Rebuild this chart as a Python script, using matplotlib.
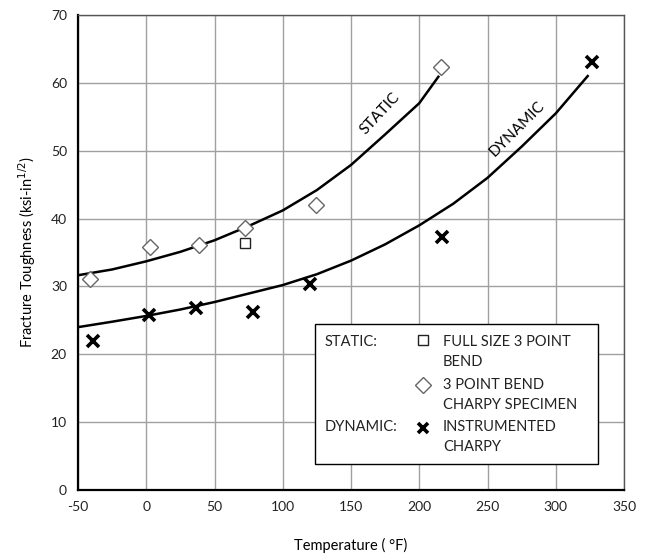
import matplotlib
matplotlib.use('Agg')
import matplotlib.pyplot as plt
from matplotlib.patches import Rectangle

plt.rcParams['font.family'] = ['Lato', 'DejaVu Sans']
plt.rcParams['axes.unicode_minus'] = False

# 试验点
static_full_x = [72]
static_full_y = [36.4]
static_charpy_x = [-41, 3, 38.6, 72.3, 124, 216]
static_charpy_y = [31.1, 35.8, 36.1, 38.6, 42.0, 62.3]
dyn_x = [-39, 2, 36.4, 78, 120, 217, 326.6]
dyn_y = [21.9, 25.8, 26.8, 26.3, 30.3, 37.3, 63.1]

# 拟合曲线
static_curve_x = [-50, -25, 0, 25, 50, 75, 100, 125, 150, 175, 200, 214]
static_curve_y = [31.65, 32.5, 33.7, 35.1, 36.8, 38.9, 41.2, 44.2, 47.9, 52.4, 57.0, 60.9]
dyn_curve_x = [-50, -25, 0, 25, 50, 75, 100, 125, 150, 175, 200, 225, 250, 275, 300, 323.4]
dyn_curve_y = [24.0, 24.8, 25.65, 26.6, 27.7, 28.95, 30.2, 31.8, 33.8, 36.2, 39.0, 42.2, 46.0, 50.6, 55.5, 61.0]

xticks = [-50, 0, 50, 100, 150, 200, 250, 300, 350]
yticks = [0, 10, 20, 30, 40, 50, 60, 70]

fig = plt.figure(figsize=(6.46, 5.57), dpi=100)
ax = fig.add_axes([78/646, 1-490/557, 546/646, 475/557])

ax.set_xlim(-50, 350)
ax.set_ylim(0, 70)
ax.set_xticks(xticks)
ax.set_yticks(yticks)
ax.grid(True, color='#a0a0a0', linewidth=1.0)
ax.set_axisbelow(True)
ax.tick_params(length=0, labelsize=10, pad=8, colors='#222222')
for s in ['top', 'right']:
    ax.spines[s].set_color('#555555')
    ax.spines[s].set_linewidth(1.0)
for s in ['left', 'bottom']:
    ax.spines[s].set_color('black')
    ax.spines[s].set_linewidth(1.6)

ax.plot(static_curve_x, static_curve_y, 'k-', lw=1.8, zorder=3, solid_joinstyle='round')
ax.plot(dyn_curve_x, dyn_curve_y, 'k-', lw=1.8, zorder=3, solid_joinstyle='round')

ax.plot(static_charpy_x, static_charpy_y, 'D', ms=8, mfc='white', mec='#666666', mew=1.0, ls='none', zorder=4)
ax.plot(static_full_x, static_full_y, 's', ms=7.5, mfc='white', mec='#222222', mew=1.0, ls='none', zorder=4)
ax.plot(dyn_x, dyn_y, 'x', ms=8, mec='black', mew=2.6, ls='none', zorder=4)

ax.text(171.2, 55.5, 'STATIC', rotation=47, ha='center', va='center', fontsize=11)
ax.text(271.4, 53.3, 'DYNAMIC', rotation=45, ha='center', va='center', fontsize=11)

ax.set_xlabel('Temperature ( °F)', fontsize=10.5, labelpad=18)
ax.set_ylabel('Fracture Toughness (ksi-in$^{1/2}$)', fontsize=10.5, labelpad=9)

# 图例框
def fx(px):
    return (px - 78) / 546
def fy(py):
    return (490 - py) / 475

ax.add_patch(Rectangle((fx(315), fy(464)), fx(598) - fx(315), fy(324) - fy(464),
                       transform=ax.transAxes, facecolor='white', edgecolor='black', lw=1.0, zorder=5))
tk = dict(transform=ax.transAxes, fontsize=10.5, va='center', ha='left', zorder=6, color='#222222')
ax.text(fx(325), fy(341.7), 'STATIC:', **tk)
ax.text(fx(443), fy(341.7), 'FULL SIZE 3 POINT', **tk)
ax.text(fx(443), fy(361.7), 'BEND', **tk)
ax.text(fx(443), fy(385), '3 POINT BEND', **tk)
ax.text(fx(443), fy(405), 'CHARPY SPECIMEN', **tk)
ax.text(fx(325), fy(427.3), 'DYNAMIC:', **tk)
ax.text(fx(443), fy(427.3), 'INSTRUMENTED', **tk)
ax.text(fx(443), fy(446.7), 'CHARPY', **tk)
ax.plot([fx(423.3)], [fy(340)], 's', ms=7, mfc='white', mec='#222222', mew=1.0, transform=ax.transAxes, zorder=6, clip_on=False)
ax.plot([fx(423.3)], [fy(385)], 'D', ms=8, mfc='white', mec='#666666', mew=1.0, transform=ax.transAxes, zorder=6, clip_on=False)
ax.plot([fx(423.3)], [fy(428)], 'x', ms=7.5, mec='black', mew=2.6, transform=ax.transAxes, zorder=6, clip_on=False)

fig.savefig('out.png', dpi=100)
